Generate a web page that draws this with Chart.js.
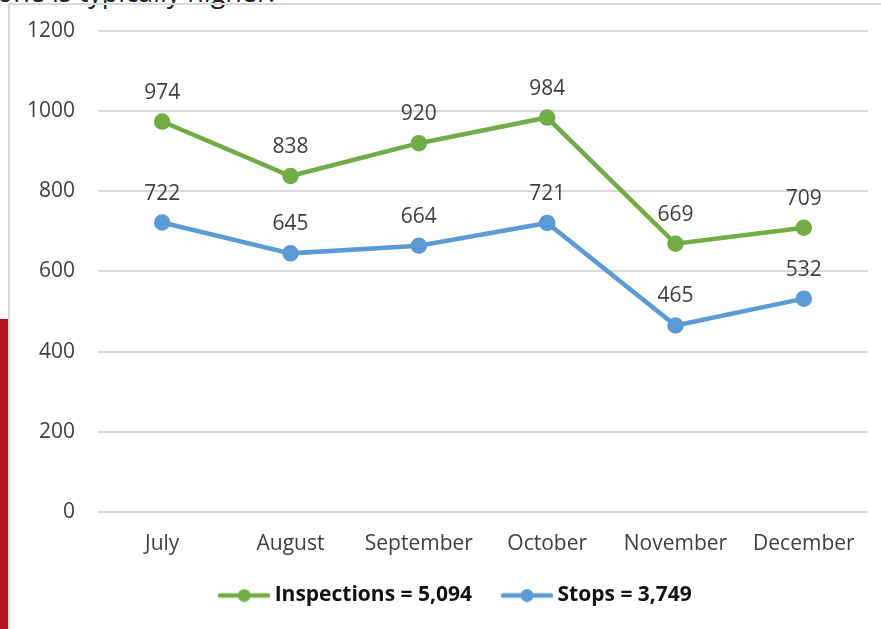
<!DOCTYPE html>
<html>
<head>
<meta charset="utf-8">
<script src="https://cdn.jsdelivr.net/npm/chart.js@4.4.1/dist/chart.umd.min.js"></script>
<style>
  html, body { margin: 0; padding: 0; background: #fff; }
  #wrap { position: relative; width: 881px; height: 629px; overflow: hidden; }
  #caption { position: absolute; left: -3px; top: -27px; font: 27px "Open Sans", sans-serif; color: #222; white-space: nowrap; }
  #frame { position: absolute; left: 8px; top: 3px; width: 880px; height: 640px; border-left: 2px solid #d9d9d9; border-top: 2px solid #d9d9d9; }
  #redbar { position: absolute; left: 0; top: 319px; width: 8px; height: 310px; background: #b5121b; }
  canvas { position: absolute; left: 0; top: 0; }
</style>
</head>
<body>
<div id="wrap">
  <div id="caption">one is typically higher.</div>
  <div id="frame"></div>
  <div id="redbar"></div>
  <canvas id="chart" width="881" height="629"></canvas>
</div>
<script>
const months = ['July', 'August', 'September', 'October', 'November', 'December'];
const inspections = [974, 838, 920, 984, 669, 709];
const stops = [722, 645, 664, 721, 465, 532];
const legendNames = ['Inspections = 5,094', 'Stops = 3,749'];
const yTicks = [0, 200, 400, 600, 800, 1000, 1200];

const GREEN = '#70ad47';
const BLUE = '#5b9bd5';
const TXT = '#404040';
const FONT = '"Open Sans", sans-serif';

// line with a dot in the middle, used as the legend symbol
function legendIcon(color) {
  const c = document.createElement('canvas');
  c.width = 52; c.height = 14;
  const g = c.getContext('2d');
  g.strokeStyle = color; g.lineWidth = 4.5; g.lineCap = 'round';
  g.beginPath(); g.moveTo(2, 7); g.lineTo(50, 7); g.stroke();
  g.fillStyle = color;
  g.beginPath(); g.arc(26, 7, 6.5, 0, Math.PI * 2); g.fill();
  return c;
}

const valueLabels = {
  id: 'valueLabels',
  afterDatasetsDraw(chart) {
    const ctx = chart.ctx;
    ctx.save();
    ctx.font = '21px ' + FONT;
    ctx.fillStyle = TXT;
    ctx.textAlign = 'center';
    ctx.textBaseline = 'middle';
    chart.data.datasets.forEach((ds, i) => {
      chart.getDatasetMeta(i).data.forEach((pt, j) => {
        ctx.fillText(ds.data[j], pt.x, pt.y - 29);
      });
    });
    ctx.restore();
  }
};

// legend: take less room, items a bit higher and to the right like the original
const legendTweak = {
  id: 'legendTweak',
  afterInit(chart) {
    const lg = chart.legend;
    const fit = lg.fit;
    lg.fit = function () { fit.call(this); this.height -= 8; };
  },
  afterLayout(chart) {
    const lg = chart.legend;
    lg.left += 24; lg.right += 24;
    lg.top -= 19;
  }
};

new Chart(document.getElementById('chart'), {
  type: 'line',
  data: {
    labels: months,
    datasets: [
      { label: legendNames[0], data: inspections, borderColor: GREEN, backgroundColor: GREEN,
        borderWidth: 4.5, pointRadius: 6, pointHoverRadius: 6 },
      { label: legendNames[1], data: stops, borderColor: BLUE, backgroundColor: BLUE,
        borderWidth: 4.5, pointRadius: 6, pointHoverRadius: 6 }
    ]
  },
  options: {
    responsive: false,
    animation: false,
    layout: { padding: { left: 0, right: 13, top: 31, bottom: 2 } },
    plugins: {
      tooltip: { enabled: false },
      legend: {
        position: 'bottom',
        labels: {
          usePointStyle: true,
          pointStyleWidth: 40,
          padding: 35,
          color: '#111',
          font: { family: FONT, size: 21, weight: 'bold' },
          generateLabels(chart) {
            return chart.data.datasets.map((ds, i) => ({
              text: ds.label,
              pointStyle: legendIcon(ds.borderColor),
              fillStyle: ds.borderColor,
              strokeStyle: ds.borderColor,
              lineWidth: 0,
              datasetIndex: i,
              fontColor: '#111'
            }));
          }
        }
      }
    },
    scales: {
      x: {
        offset: true,
        grid: { display: false },
        border: { display: false },
        ticks: { color: TXT, padding: 12, font: { family: FONT, size: 21 } }
      },
      y: {
        min: 0, max: 1200,
        afterFit(scale) { scale.width = 98; },
        afterBuildTicks(scale) { scale.ticks = yTicks.map(v => ({ value: v })); },
        grid: { color: '#d9d9d9', lineWidth: 2, tickLength: 19, tickColor: 'rgba(0,0,0,0)' },
        border: { display: false },
        ticks: { color: TXT, padding: 4, font: { family: FONT, size: 21 }, callback: v => String(v) }
      }
    }
  },
  plugins: [valueLabels, legendTweak]
});
</script>
</body>
</html>
